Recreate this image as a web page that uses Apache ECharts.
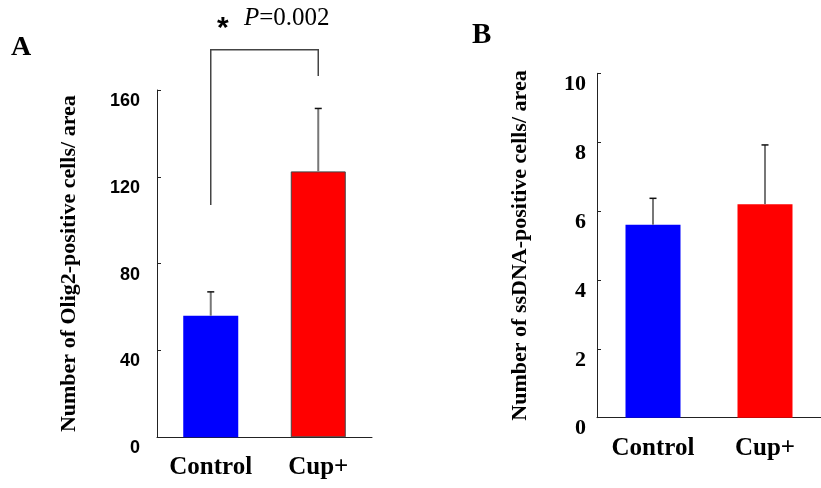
<!DOCTYPE html>
<html>
<head>
<meta charset="utf-8">
<script src="https://cdn.jsdelivr.net/npm/echarts@6/dist/echarts.min.js"></script>
<style>html,body{margin:0;padding:0;background:#fff}#c{width:821px;height:488px}</style>
</head>
<body>
<div id="c"></div>
<script>
const categories = ['Control', 'Cup+'];
const olig2Mean = [56, 122.5];
const olig2Err = [11, 29];
const ssdnaMean = [5.6, 6.2];
const ssdnaErr = [0.77, 1.72];
const barColors = ['#0000ff', '#ff0000'];
const olig2Max = 160, olig2Step = 40;
const ssdnaMax = 10, ssdnaStep = 2;
// significance bracket (in Olig2 axis units)
const bracketLeftBottom = 107;
const bracketRightBottom = 166.4;
const bracketTop = 178.5;
const pText = '=0.002';

const serif = '"Liberation Serif", "Times New Roman", serif';
const sans = '"Liberation Sans", Arial, sans-serif';

const chart = echarts.init(document.getElementById('c'));

function errItem(params, api) {
  const x = api.value(0), m = api.value(1), e = api.value(2);
  const b = api.coord([x, m]);
  const t = api.coord([x, m + e]);
  return {
    type: 'group',
    children: [
      { type: 'line', shape: { x1: b[0], y1: b[1], x2: t[0], y2: t[1] }, style: { stroke: '#777', lineWidth: 2 } },
      { type: 'line', shape: { x1: t[0] - 3.5, y1: t[1], x2: t[0] + 3.5, y2: t[1] }, style: { stroke: '#111', lineWidth: 1.5 } }
    ]
  };
}

const axisLineStyle = { color: '#222', width: 1 };
const xLabel = { margin: 18, interval: 0, hideOverlap: false, color: '#000', fontFamily: serif, fontWeight: 'bold', fontSize: 25 };

chart.setOption({
  animation: false,
  grid: [
    { left: 157, top: 90, width: 215, height: 347.3 },
    { left: 597, top: 73.3, width: 233.4, height: 344.4 }
  ],
  xAxis: [
    {
      gridIndex: 0, type: 'category', data: categories,
      axisLine: { lineStyle: axisLineStyle },
      axisTick: { inside: true, length: 4, lineStyle: axisLineStyle },
      axisLabel: xLabel
    },
    {
      gridIndex: 1, type: 'category', data: categories,
      axisLine: { lineStyle: axisLineStyle },
      axisTick: { inside: true, length: 4, lineStyle: axisLineStyle },
      axisLabel: xLabel
    }
  ],
  yAxis: [
    {
      gridIndex: 0, type: 'value', min: 0, max: olig2Max, interval: olig2Step,
      splitLine: { show: false },
      axisLine: { show: true, lineStyle: axisLineStyle },
      axisTick: { show: true, inside: true, length: 4, lineStyle: axisLineStyle },
      axisLabel: { margin: 17, verticalAlign: 'top', padding: [2, 0, 0, 0], color: '#000', fontFamily: sans, fontWeight: 'bold', fontSize: 18 },
      name: 'Number of Olig2-positive cells/ area',
      nameLocation: 'middle', nameRotate: 90, nameGap: 77,
      nameTextStyle: { color: '#000', fontFamily: serif, fontWeight: 'bold', fontSize: 22 }
    },
    {
      gridIndex: 1, type: 'value', min: 0, max: ssdnaMax, interval: ssdnaStep,
      splitLine: { show: false },
      axisLine: { show: true, lineStyle: axisLineStyle },
      axisTick: { show: true, inside: true, length: 4, lineStyle: axisLineStyle },
      axisLabel: { margin: 11, verticalAlign: 'top', color: '#000', fontFamily: serif, fontWeight: 'bold', fontSize: 22 },
      name: 'Number of ssDNA-positive cells/ area',
      nameLocation: 'middle', nameRotate: 90, nameGap: 66,
      nameTextStyle: { color: '#000', fontFamily: serif, fontWeight: 'bold', fontSize: 22 }
    }
  ],
  series: [
    {
      type: 'bar', xAxisIndex: 0, yAxisIndex: 0, barWidth: 55,
      data: olig2Mean.map((v, i) => ({
        value: v,
        itemStyle: { color: barColors[i], borderColor: i === 1 ? '#444' : barColors[i], borderWidth: i === 1 ? 1 : 0 }
      }))
    },
    {
      type: 'custom', xAxisIndex: 0, yAxisIndex: 0, renderItem: errItem, clip: false, z: 5,
      data: olig2Mean.map((v, i) => [i, v, olig2Err[i]])
    },
    {
      type: 'bar', xAxisIndex: 1, yAxisIndex: 1, barWidth: 55,
      data: ssdnaMean.map((v, i) => ({ value: v, itemStyle: { color: barColors[i] } }))
    },
    {
      type: 'custom', xAxisIndex: 1, yAxisIndex: 1, renderItem: errItem, clip: false, z: 5,
      data: ssdnaMean.map((v, i) => [i, v, ssdnaErr[i]])
    },
    {
      type: 'custom', xAxisIndex: 0, yAxisIndex: 0, clip: false, z: 6,
      data: [[0, bracketLeftBottom, 1, bracketRightBottom, bracketTop]],
      renderItem: function (params, api) {
        const a = api.coord([api.value(0), api.value(1)]);
        const at = api.coord([api.value(0), api.value(4)]);
        const b = api.coord([api.value(2), api.value(3)]);
        const bt = api.coord([api.value(2), api.value(4)]);
        return {
          type: 'polyline',
          shape: { points: [a, at, bt, b] },
          style: { stroke: '#444', lineWidth: 1.5, fill: null }
        };
      }
    }
  ],
  graphic: [
    { type: 'text', x: 11, y: 48, style: { text: 'A', font: 'bold 28px ' + serif, fill: '#000', verticalAlign: 'middle' } },
    { type: 'text', x: 472, y: 36, style: { text: 'B', font: 'bold 29px ' + serif, fill: '#000', verticalAlign: 'middle' } },
    { type: 'text', x: 217, y: 29, style: { text: '*', font: 'bold 30px ' + sans, fill: '#000', verticalAlign: 'middle' } },
    {
      type: 'text', x: 244, y: 18,
      style: {
        text: '{i|P}' + pText,
        font: '25px ' + serif, fill: '#000', verticalAlign: 'middle',
        rich: { i: { fontStyle: 'italic', fontFamily: serif, fontSize: 25 } }
      }
    }
  ]
});
</script>
</body>
</html>
